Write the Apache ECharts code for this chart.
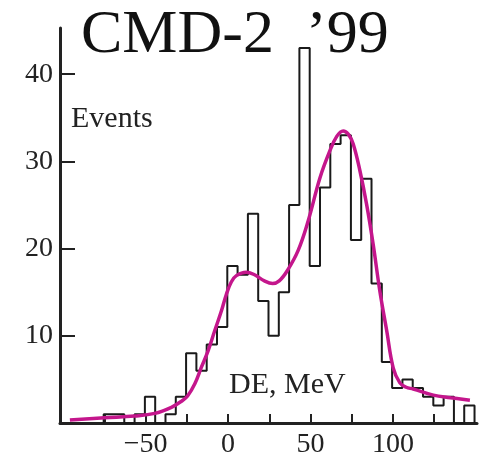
<!DOCTYPE html>
<html>
<head>
<meta charset="utf-8">
<script src="https://cdn.jsdelivr.net/npm/echarts@6/dist/echarts.min.js"></script>
<style>
  html, body { margin: 0; padding: 0; background: #fff; }
  #chart { width: 484px; height: 459px; }
</style>
</head>
<body>
<div id="chart"></div>
<script>
// histogram bins: left edge (MeV) and counts, bin width 6.25
var binLeft = [-75.5, -69.25, -63, -56.75, -50.5, -44.25, -38, -31.75, -25.5, -19.25, -13, -6.75,
  -0.5, 5.75, 12, 18.25, 24.5, 30.75, 37, 43.25, 49.5, 55.75, 62, 68.25,
  74.5, 80.75, 87, 93.25, 99.5, 105.75, 112, 118.25, 124.5, 130.75, 137, 143.25];
var binWidth = 6.25;
var counts = [1, 1, 0, 1, 3, 0, 1, 3, 8, 6, 9, 11,
  18, 17, 24, 14, 10, 15, 25, 43, 18, 27, 32, 33,
  21, 28, 16, 7, 4, 5, 4, 3, 2, 3, 0, 2];

// fitted curve (magenta)
var fitX = [-96, -75, -56.7, -44.5, -34.4, -28.3, -24.6, -20.2, -16.2, -12.1, -8.1, -4, -1,
  2, 5, 11, 16, 22, 27, 31, 36, 42.5, 48.6, 55.7, 61.7, 66, 69.8, 73, 75.9,
  80, 84, 88, 92, 96.2, 100.2, 104.2, 108, 112.3, 124.5, 135, 146.7];
var fitY = [0.34, 0.6, 0.8, 1.1, 1.8, 2.5, 3.1, 4.5, 6.4, 8.3, 10.6, 12.9, 14.8,
  16.2, 16.9, 17.3, 17.0, 16.3, 16.0, 16.3, 17.5, 19.8, 23.2, 28.1, 31.2, 32.9, 33.5, 33.1, 32.0,
  28.9, 25.1, 20.5, 15.2, 10.6, 6.3, 4.6, 4.1, 3.9, 3.2, 2.9, 2.6];

var xTicks = [-75, -50, -25, 0, 25, 50, 75, 100, 125];
var xLabels = [-50, 0, 50, 100];
var yTicks = [10, 20, 30, 40];

var serif = "'Liberation Serif', 'DejaVu Serif', serif";

// outline of the histogram
function histOutline() {
  var pts = [[binLeft[0], 0]];
  for (var i = 0; i < binLeft.length; i++) {
    pts.push([binLeft[i], counts[i]]);
    pts.push([binLeft[i] + binWidth, counts[i]]);
  }
  pts.push([binLeft[binLeft.length - 1] + binWidth, 0]);
  return pts;
}

var fitData = fitX.map(function (x, i) { return [x, fitY[i]]; });

var chart = echarts.init(document.getElementById('chart'));
chart.setOption({
  animation: false,
  grid: { left: 60, right: 7, top: 28, bottom: 36 },
  xAxis: {
    type: 'value',
    min: -102,
    max: 151,
    axisLine: { onZero: false, lineStyle: { color: '#222', width: 3 } },
    axisTick: { inside: true, length: 9, customValues: xTicks, lineStyle: { color: '#222', width: 2 } },
    axisLabel: {
      customValues: xLabels,
      margin: 8,
      color: '#222',
      fontSize: 28,
      fontFamily: serif,
      formatter: function (v) { return String(v).replace('-', '\u2212'); }
    },
    splitLine: { show: false }
  },
  yAxis: {
    type: 'value',
    min: 0,
    max: 45.3,
    axisLine: { show: true, onZero: false, lineStyle: { color: '#222', width: 3 } },
    axisTick: { inside: true, length: 15, customValues: yTicks, lineStyle: { color: '#222', width: 2 } },
    axisLabel: {
      customValues: yTicks,
      margin: 7,
      color: '#222',
      fontSize: 28,
      fontFamily: serif
    },
    splitLine: { show: false }
  },
  graphic: [
    { type: 'text', left: 81, top: 5, style: { text: 'CMD-2', font: '62px ' + serif, fill: '#111' } },
    { type: 'text', left: 306, top: 5, style: { text: '\u201999', font: '62px ' + serif, fill: '#111' } },
    { type: 'text', left: 71, top: 104, style: { text: 'Events', font: '30px ' + serif, fill: '#222' } },
    { type: 'text', left: 229, top: 370, style: { text: 'DE, MeV', font: '30px ' + serif, fill: '#222' } }
  ],
  series: [
    {
      name: 'hist',
      type: 'line',
      data: histOutline(),
      showSymbol: false,
      lineStyle: { color: '#1a1a1a', width: 2 },
      z: 2
    },
    {
      name: 'fit',
      type: 'line',
      data: fitData,
      smooth: 0.4,
      showSymbol: false,
      lineStyle: { color: '#c4168c', width: 3.5 },
      z: 3
    }
  ]
});
</script>
</body>
</html>
